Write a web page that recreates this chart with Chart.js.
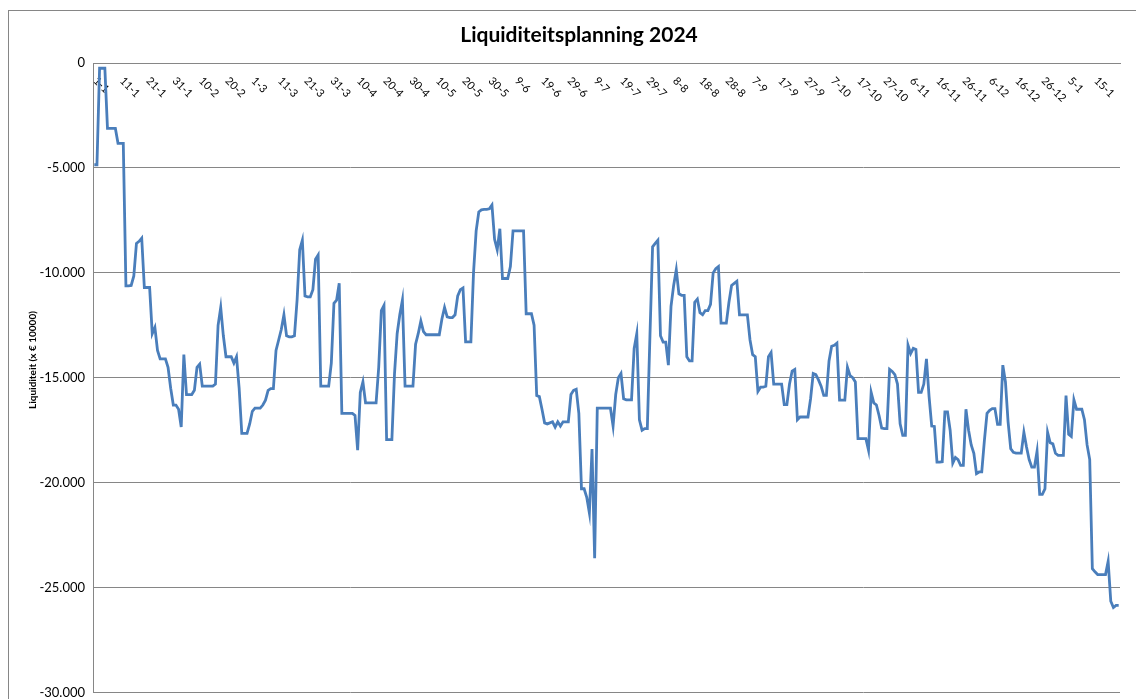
<!DOCTYPE html>
<html>
<head>
<meta charset="utf-8">
<title>Liquiditeitsplanning 2024</title>
<script src="https://cdn.jsdelivr.net/npm/chart.js@4.4.1/dist/chart.umd.min.js"></script>
<style>
    html, body { margin: 0; padding: 0; background: #fff; overflow: hidden; }
    #wrap { position: relative; width: 1136px; height: 699px; overflow: hidden; }
    #wrap canvas { position: absolute; left: 0; top: 0; }
    #frame { position: absolute; left: 8px; top: 10px; width: 1200px; height: 800px; border: 1px solid #868686; box-sizing: border-box; pointer-events: none; }
</style>
</head>
<body>
<div id="wrap">
    <canvas id="liqChart" width="1136" height="707"></canvas>
    <div id="frame"></div>
</div>
<script>
// Daily liquidity balance, one array per month (euro x 10000)
const jan2024 = [-4850, -4850, -250, -250, -250, -3120, -3120, -3120, -3120, -3830, -3830, -3830, -10620, -10620, -10600, -10150, -8600, -8500, -8350, -10700, -10700, -10700, -12900, -12600, -13700, -14100, -14100, -14100, -14500, -15500, -16300];
const feb2024 = [-16300, -16500, -17350, -13900, -15800, -15800, -15800, -15600, -14500, -14350, -15400, -15400, -15400, -15400, -15400, -15300, -12500, -11650, -13000, -14000, -14000, -14000, -14300, -14000, -15500, -17650, -17650, -17650, -17200];
const mar2024 = [-16600, -16450, -16450, -16450, -16300, -16070, -15600, -15520, -15520, -13700, -13200, -12700, -12000, -13000, -13050, -13050, -13000, -11300, -8900, -8450, -11100, -11150, -11150, -10800, -9350, -9150, -15400, -15400, -15400, -15400, -14300];
const apr2024 = [-11450, -11300, -10500, -16700, -16700, -16700, -16700, -16700, -16800, -18450, -15700, -15200, -16200, -16200, -16200, -16200, -16200, -14500, -11800, -11550, -17950, -17950, -17950, -14800, -12900, -12000, -11300, -15400, -15400, -15400];
const may2024 = [-15400, -13400, -12900, -12300, -12800, -12950, -12950, -12950, -12950, -12950, -12950, -12200, -11650, -12100, -12130, -12130, -12000, -11100, -10800, -10720, -13290, -13290, -13290, -10000, -8000, -7100, -7000, -6980, -6980, -6950, -6770];
const jun2024 = [-8400, -8900, -7900, -10270, -10270, -10270, -9700, -8000, -8000, -8000, -8000, -8000, -11950, -11950, -11950, -12500, -15850, -15900, -16500, -17150, -17200, -17150, -17100, -17350, -17100, -17300, -17100, -17100, -17100, -15800];
const jul2024 = [-15600, -15550, -16700, -20290, -20290, -20700, -21450, -18400, -23600, -16450, -16450, -16450, -16450, -16450, -16450, -17300, -15800, -15000, -14800, -16000, -16050, -16050, -16050, -13600, -12900, -17000, -17500, -17420, -17420, -13000, -8760];
const aug2024 = [-8600, -8450, -13000, -13300, -13300, -14400, -11600, -10600, -9850, -11000, -11070, -11070, -14000, -14200, -14200, -11400, -11250, -11900, -12000, -11800, -11800, -11500, -10000, -9800, -9700, -12400, -12400, -12400, -11400, -10600, -10500];
const sep2024 = [-10400, -12000, -12000, -12000, -12000, -13200, -13900, -14000, -15650, -15450, -15450, -15400, -14000, -13800, -15300, -15300, -15300, -15300, -16280, -16280, -15300, -14680, -14600, -17000, -16870, -16870, -16870, -16870, -16000, -14800];
const oct2024 = [-14850, -15100, -15400, -15840, -15840, -14200, -13500, -13450, -13350, -16070, -16070, -16070, -14500, -14900, -15000, -15200, -17900, -17900, -17900, -17900, -18450, -15700, -16200, -16300, -16800, -17400, -17420, -17420, -14600, -14700, -14850];
const nov2024 = [-15300, -17200, -17740, -17740, -13450, -13850, -13600, -13650, -15700, -15700, -15300, -14100, -15900, -17300, -17320, -19020, -19020, -19000, -16630, -16630, -17500, -19070, -18800, -18900, -19180, -19180, -16500, -17500, -18200, -18600];
const dec2024 = [-19570, -19490, -19490, -18000, -16700, -16550, -16470, -16470, -17220, -17220, -14400, -15200, -17100, -18380, -18550, -18590, -18590, -18590, -17600, -18300, -18900, -19260, -19260, -18500, -20560, -20560, -20300, -17600, -18100, -18150, -18600];
const jan2025 = [-18700, -18700, -18700, -15850, -17700, -17800, -16050, -16500, -16500, -16500, -17000, -18200, -18900, -24100, -24250, -24380, -24380, -24380, -24380, -23750, -25650, -25950, -25850, -25850];

// Axis labels shown every 10 days along the top
const tickLabels = ['1-1', '11-1', '21-1', '31-1', '10-2', '20-2', '1-3', '11-3', '21-3', '31-3', '10-4', '20-4', '30-4', '10-5', '20-5', '30-5', '9-6', '19-6', '29-6', '9-7', '19-7', '29-7', '8-8', '18-8', '28-8', '7-9', '17-9', '27-9', '7-10', '17-10', '27-10', '6-11', '16-11', '26-11', '6-12', '16-12', '26-12', '5-1', '15-1'];
const tickStep = 10;

const chartTitle = 'Liquiditeitsplanning 2024';
const yTitle = 'Liquiditeit (x \u20ac 10000)';

const balance = [].concat(jan2024, feb2024, mar2024, apr2024, may2024, jun2024,
    jul2024, aug2024, sep2024, oct2024, nov2024, dec2024, jan2025);

// One category per day starting 1 January 2024
const days = balance.map((_, i) => {
    const d = new Date(2024, 0, 1 + i);
    return d.getDate() + '-' + (d.getMonth() + 1);
});

// Format y ticks Dutch style: -5.000
function formatTick(value) {
    if (value === 0) return '0';
    const s = String(Math.abs(value)).replace(/\B(?=(\d{3})+(?!\d))/g, '.');
    return (value < 0 ? '-' : '') + s;
}

// Draws the slanted date labels under the top axis and the y axis title
const axisText = {
    id: 'axisText',
    beforeDatasetsDraw(chart) {
        const { ctx, chartArea, scales } = chart;
        ctx.save();
        ctx.fillStyle = '#000';
        ctx.font = '11px Lato';
        ctx.textAlign = 'left';
        ctx.textBaseline = 'middle';
        tickLabels.forEach((txt, k) => {
            const px = scales.x.getPixelForValue(k * tickStep);
            ctx.save();
            ctx.translate(px + 1, chartArea.top + 16);
            ctx.rotate(Math.PI / 4);
            ctx.fillText(txt, 0, 0);
            ctx.restore();
        });

        ctx.font = 'bold 10px Lato';
        ctx.textAlign = 'center';
        ctx.translate(33, 360);
        ctx.rotate(-Math.PI / 2);
        ctx.fillText(yTitle, 0, 0);
        ctx.restore();
    }
};

Chart.defaults.font.family = 'Lato, sans-serif';

new Chart(document.getElementById('liqChart'), {
    type: 'line',
    data: {
        labels: days,
        datasets: [{
            label: 'Liquiditeit',
            data: balance,
            borderColor: '#4a7ebb',
            borderWidth: 2.8,
            pointRadius: 0,
            tension: 0,
            fill: false
        }]
    },
    options: {
        responsive: false,
        animation: false,
        devicePixelRatio: 1,
        layout: {
            padding: { left: 22, right: 0, top: 0, bottom: 7 }
        },
        plugins: {
            legend: { display: false },
            tooltip: { enabled: false },
            title: {
                display: true,
                text: chartTitle,
                color: '#000',
                font: { size: 21, weight: 'bold' },
                padding: { top: 22.8, bottom: 0 }
            }
        },
        scales: {
            x: {
                position: 'top',
                offset: true,
                grid: { display: false },
                ticks: { display: false },
                border: { color: '#868686' },
                afterFit: (scale) => { scale.height = 15; }
            },
            y: {
                min: -30000,
                max: 0,
                ticks: {
                    stepSize: 5000,
                    padding: 8,
                    color: '#000',
                    font: { size: 13, lineHeight: 1 },
                    callback: formatTick
                },
                grid: { color: '#868686', drawTicks: false },
                border: { color: '#868686' },
                afterFit: (scale) => { scale.width = 71; }
            },
            y2: {
                type: 'linear',
                position: 'right',
                grid: { display: false },
                ticks: { display: false },
                border: { display: false },
                afterFit: (scale) => { scale.width = 16; }
            }
        }
    },
    plugins: [axisText]
});
</script>
</body>
</html>
